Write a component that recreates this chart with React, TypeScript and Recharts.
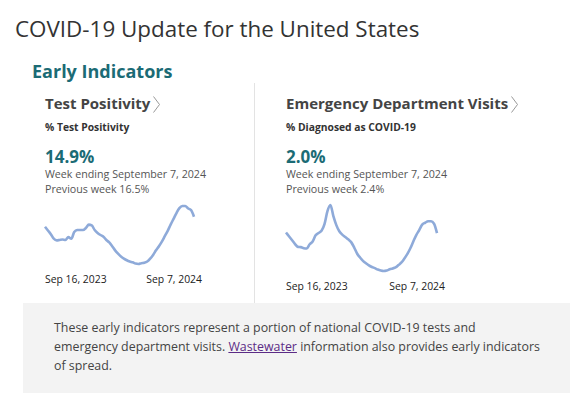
import React from "react";
import {Line, LineChart, XAxis, YAxis} from "recharts";

// weekly values, week ending Sep 16, 2023 .. Sep 7, 2024
const weeks: string[] = [
    "2023-09-16", "2023-09-23", "2023-09-30", "2023-10-07", "2023-10-14", "2023-10-21", "2023-10-28",
    "2023-11-04", "2023-11-11", "2023-11-18", "2023-11-25", "2023-12-02", "2023-12-09", "2023-12-16",
    "2023-12-23", "2023-12-30", "2024-01-06", "2024-01-13", "2024-01-20", "2024-01-27", "2024-02-03",
    "2024-02-10", "2024-02-17", "2024-02-24", "2024-03-02", "2024-03-09", "2024-03-16", "2024-03-23",
    "2024-03-30", "2024-04-06", "2024-04-13", "2024-04-20", "2024-04-27", "2024-05-04", "2024-05-11",
    "2024-05-18", "2024-05-25", "2024-06-01", "2024-06-08", "2024-06-15", "2024-06-22", "2024-06-29",
    "2024-07-06", "2024-07-13", "2024-07-20", "2024-07-27", "2024-08-03", "2024-08-10", "2024-08-17",
    "2024-08-24", "2024-08-31", "2024-09-07",
];

const testPositivity: number[] = [
    12.5, 11.6, 10.7, 9.6, 9.2, 9.3, 9.4, 9.3, 10.0, 9.6, 11.2, 11.7, 11.7, 11.7, 12.2, 13.0, 12.8,
    11.7, 11.0, 10.5, 10.1, 9.3, 8.7, 7.8, 6.8, 6.0, 5.3, 4.8, 4.4, 4.1, 3.9, 3.6, 3.5, 3.7, 3.8,
    4.1, 4.8, 5.7, 6.8, 7.8, 8.9, 10.2, 11.5, 13.0, 14.4, 15.8, 17.0, 17.5, 17.5, 16.9, 16.5, 14.9,
];

const edVisits: number[] = [
    2.03, 1.87, 1.71, 1.55, 1.42, 1.41, 1.36, 1.35, 1.53, 1.65, 1.91, 2.01, 2.10, 2.38, 2.93, 3.19,
    2.72, 2.34, 2.08, 1.94, 1.84, 1.74, 1.62, 1.40, 1.14, 0.97, 0.83, 0.73, 0.64, 0.57, 0.52, 0.46,
    0.42, 0.40, 0.42, 0.47, 0.51, 0.55, 0.65, 0.76, 0.93, 1.12, 1.36, 1.65, 1.92, 2.13, 2.36, 2.44,
    2.50, 2.50, 2.40, 2.00,
];

const tickLabels: string[] = ["Sep 16, 2023", "Sep 7, 2024"];

const FONT = "'Open Sans', 'Noto Sans', sans-serif";
const TEAL = "#1b6b75";
const LINE = "#8eaad9";

const toRows = (values: number[]) => weeks.map((week, i) => ({week, value: values[i]}));

const EdgeTick = ({x, y, payload}: any) => {
    const first = payload.value === weeks[0];
    return (
        <text x={x} y={y} dy={18.5} dx={first ? 0 : 8}
              textAnchor={first ? "start" : "end"}
              fontSize={10.4} fontFamily={FONT} fill="#222"
        >
            {first ? tickLabels[0] : tickLabels[1]}
        </text>
    );
};

const Sparkline = ({values, width, height, top}: { values: number[]; width: number; height: number; top: number }) => (
    <LineChart width={width} height={height} data={toRows(values)}
               margin={{top, right: 16, left: 5, bottom: 0}}>
        <XAxis dataKey="week"
               ticks={[weeks[0], weeks[weeks.length - 1]]}
               interval={0}
               axisLine={false}
               tickLine={false}
               tickSize={0}
               tickMargin={0}
               height={29}
               tick={<EdgeTick/>}
        />
        <YAxis hide domain={["dataMin", "dataMax"]}/>
        <Line type="monotone" dataKey="value" stroke={LINE} strokeWidth={2.6}
              dot={false} isAnimationActive={false}/>
    </LineChart>
);

const Chevron = ({left, top}: { left: number; top: number }) => (
    <svg width={9} height={20} style={{position: "absolute", left, top}}>
        <polyline points="1.5,1.5 7.5,9.5 1.5,17.5" fill="none" stroke="#999" strokeWidth={1}/>
    </svg>
);

const abs = (left: number, top: number, extra: React.CSSProperties): React.CSSProperties => ({
    position: "absolute", left, top, lineHeight: 1, whiteSpace: "nowrap", ...extra,
});

const Panel = ({x, title, chevronX, subtitle, value, previous, values, chart}: any) => (
    <>
        <div style={abs(x, 95.5, {fontSize: 15, fontWeight: 700, color: "#444"})}>{title}</div>
        <Chevron left={chevronX} top={95}/>
        <div style={abs(x, 121.5, {fontSize: 10.3, fontWeight: 700, color: "#333"})}>{subtitle}</div>
        <div style={abs(x, 148, {fontSize: 17, fontWeight: 700, color: TEAL})}>{value}</div>
        <div style={abs(x, 168.8, {fontSize: 10.7, color: "#555"})}>Week ending September 7, 2024</div>
        <div style={abs(x, 183.8, {fontSize: 10.7, color: "#555"})}>{previous}</div>
        <div style={{position: "absolute", left: chart.left, top: 198}}>
            <Sparkline values={values} width={chart.width} height={chart.height} top={chart.top}/>
        </div>
    </>
);

export default function App() {
    return (
        <div style={{position: "fixed", left: 0, top: 0, width: 575, height: 395, background: "#fff",
            fontFamily: FONT, overflow: "hidden"}}>
            <div style={abs(15, 17.5, {fontSize: 22.4, color: "#333"})}>COVID-19 Update for the United States</div>
            <div style={abs(32, 61.5, {fontSize: 18, fontWeight: 700, color: TEAL})}>Early Indicators</div>

            <div style={{position: "absolute", left: 254, top: 83, width: 1, height: 220, background: "#e3e3e3"}}/>

            <Panel x={45} title="Test Positivity" chevronX={152} subtitle="% Test Positivity"
                   value="14.9%" previous="Previous week 16.5%" values={testPositivity}
                   chart={{left: 40, width: 170, height: 95, top: 8}}/>
            <Panel x={286} title="Emergency Department Visits" chevronX={510} subtitle="% Diagnosed as COVID-19"
                   value="2.0%" previous="Previous week 2.4%" values={edVisits}
                   chart={{left: 281, width: 172, height: 102, top: 7}}/>

            <div style={{position: "absolute", left: 23, top: 303, width: 547, height: 90, background: "#f3f3f3"}}/>
            <div style={{position: "absolute", left: 54, top: 318, width: 500, fontSize: 12.4, lineHeight: "19px",
                color: "#444"}}>
                These early indicators represent a portion of national COVID-19 tests and<br/>
                emergency department visits. <span style={{color: "#5b2b86", textDecoration: "underline"}}>Wastewater</span> information
                also provides early indicators<br/>
                of spread.
            </div>
        </div>
    );
}
